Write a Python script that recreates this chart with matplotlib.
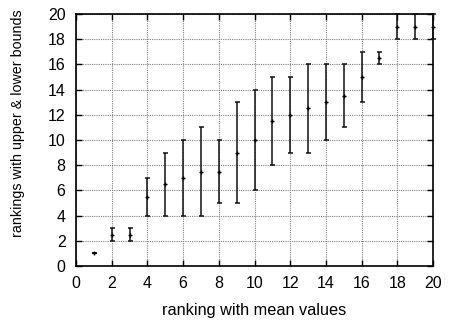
import matplotlib
matplotlib.use("Agg")
import matplotlib.pyplot as plt
import numpy as np

ranks = [1, 2, 3, 4, 5, 6, 7, 8, 9, 10, 11, 12, 13, 14, 15, 16, 17, 18, 19, 20]
means = [1, 2.5, 2.5, 5.5, 6.5, 7, 7.5, 7.5, 9, 10, 11.5, 12, 12.5, 13, 13.5, 15, 16.5, 19, 19, 19]
lower = [1, 2, 2, 4, 4, 4, 4, 5, 5, 6, 8, 9, 9, 10, 11, 13, 16, 18, 18, 18]
upper = [1, 3, 3, 7, 9, 10, 11, 10, 13, 14, 15, 15, 16, 16, 16, 17, 17, 20, 20, 20]
xticks = [0, 2, 4, 6, 8, 10, 12, 14, 16, 18, 20]
yticks = [0, 2, 4, 6, 8, 10, 12, 14, 16, 18, 20]

plt.rcParams['font.family'] = ['Liberation Sans', 'DejaVu Sans']
fig = plt.figure(figsize=(4.51, 3.2), dpi=100)
ax = fig.add_axes([76/451, 1-266/320, (433-76)/451, (266-14)/320])

m = np.array(means)
yerr = [m - np.array(lower), np.array(upper) - m]
ax.errorbar(ranks, means, yerr=yerr, fmt='none', ecolor='#111111', elinewidth=1.1,
            capsize=1.8, capthick=1.1, clip_on=False, zorder=3)
ax.plot(ranks, means, marker='+', linestyle='none', color='black', markersize=3.5,
        markeredgewidth=1.0, clip_on=False, zorder=4)

ax.set_xlim(0, 20)
ax.set_ylim(0, 20)
ax.set_xticks(xticks)
ax.set_yticks(yticks)
ax.set_xticklabels([str(t) for t in xticks], fontsize=11.5)
ax.set_yticklabels([str(t) for t in yticks], fontsize=11.5)
ax.tick_params(direction='in', top=True, right=True, length=4, width=1, pad=7.5)
ax.grid(True, linestyle=(0, (1, 1)), color='#808080', linewidth=0.8)
ax.set_axisbelow(True)
for s in ax.spines.values():
    s.set_linewidth(1.2)
ax.set_xlabel('ranking with mean values', fontsize=11.7, labelpad=8)
ax.set_ylabel('rankings with upper & lower bounds', fontsize=10.3, labelpad=13)
ax.yaxis.set_label_coords(-0.143, 0.565)

fig.savefig('out.png', dpi=100)
